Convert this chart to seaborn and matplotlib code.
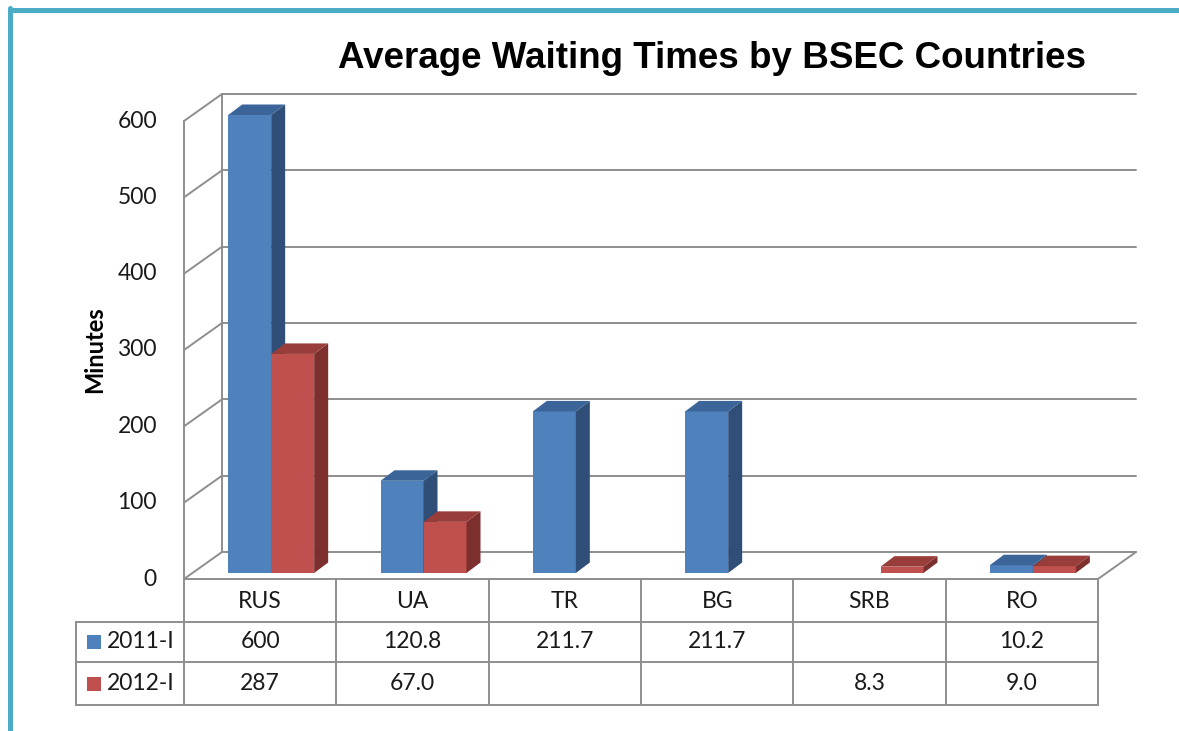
import numpy as np
import pandas as pd
import matplotlib
matplotlib.use("Agg")
import matplotlib.pyplot as plt
import seaborn as sns
from matplotlib.patches import Polygon, Rectangle

# data
countries = ["RUS", "UA", "TR", "BG", "SRB", "RO"]
periods = ["2011-I", "2012-I"]
wait_2011 = [600, 120.8, 211.7, 211.7, np.nan, 10.2]
wait_2012 = [287, 67.0, np.nan, np.nan, 8.3, 9.0]
table_2011 = ["600", "120.8", "211.7", "211.7", "", "10.2"]
table_2012 = ["287", "67.0", "", "", "8.3", "9.0"]
y_ticks = [0, 100, 200, 300, 400, 500, 600]

front_colors = ["#4F81BD", "#C0504D"]
side_colors = ["#2F4E78", "#7D2F2D"]
top_colors = ["#3B6599", "#983D3A"]
grid_color = "#8E8E8E"
frame_color = "#4BACC6"
text_color = "#1A1A1A"

df = pd.DataFrame({
    "country": countries * 2,
    "period": [periods[0]] * 6 + [periods[1]] * 6,
    "minutes": wait_2011 + wait_2012,
}).dropna()

sns.set_style("white")
plt.rcParams["font.family"] = ["Lato", "DejaVu Sans"]

W, H = 1179, 731
fig = plt.figure(figsize=(W / 100, H / 100), dpi=100)


def fx(x):
    return x / W


def fy(y):
    return 1 - y / H


# front plane of the 3d box in pixels
left_px, right_px, base_px, top_px = 184, 1098, 579, 121
ppx = (right_px - left_px) / 6
ppy = (base_px - top_px) / 600
DX = 38 / ppx          # wall depth
DY = 27 / ppy
OX, OY = 11 / ppx, 6 / ppy      # bar front offset
BDX, BDY = 14 / ppx, 10.5 / ppy  # bar depth
bar_w = 43 / ppx

ax = fig.add_axes([fx(left_px), fy(base_px), (right_px + 38 - left_px) / W,
                   (base_px - top_px + 27) / H])

sns.barplot(data=df, x="country", y="minutes", hue="period", order=countries,
            hue_order=periods, palette=front_colors, width=2 * bar_w,
            errorbar=None, saturation=1, legend=False, linewidth=0, ax=ax)

ax.set_xlim(-0.5, 5.5 + DX)
ax.set_ylim(0, 600 + DY)
ax.axis("off")

# walls and gridlines
for v in y_ticks:
    ax.plot([-0.5 + DX, 5.5 + DX], [v + DY, v + DY], color=grid_color, lw=1.4, zorder=1, clip_on=False)
    ax.plot([-0.5, -0.5 + DX], [v, v + DY], color=grid_color, lw=1.4, zorder=1, clip_on=False)
    ax.text(-0.5 - 27 / ppx, v, str(v), ha="right", va="center", fontsize=16.5, color=text_color)
ax.plot([-0.5, -0.5], [0, 600], color=grid_color, lw=1.4, zorder=1, clip_on=False)
ax.plot([-0.5 + DX, -0.5 + DX], [DY, 600 + DY], color=grid_color, lw=1.4, zorder=1, clip_on=False)
ax.plot([5.5, 5.5 + DX], [0, DY], color=grid_color, lw=1.4, zorder=1, clip_on=False)

# turn flat seaborn bars into 3d blocks
for p in list(ax.patches):
    h = p.get_height()
    if not np.isfinite(h) or h <= 0:
        continue
    x0 = p.get_x()
    w = p.get_width()
    cat = int(round(x0 + w / 2))
    hi = 0 if x0 + w / 2 < cat else 1
    z = 3 + cat * 3 + hi
    x0 = x0 + OX
    x1 = x0 + w
    p.set_x(x0)
    p.set_y(OY)
    p.set_zorder(z)
    yt = OY + h
    ax.add_patch(Polygon([(x1, OY), (x1 + BDX, OY + BDY), (x1 + BDX, yt + BDY), (x1, yt)],
                         closed=True, facecolor=side_colors[hi], edgecolor="none", zorder=z))
    ax.add_patch(Polygon([(x0, yt), (x0 + BDX, yt + BDY), (x1 + BDX, yt + BDY), (x1, yt)],
                         closed=True, facecolor=top_colors[hi], edgecolor="none", zorder=z))

# data table below the plot
tab_left = 76
tab = fig.add_axes([fx(tab_left), fy(705), (right_px - tab_left) / W, (705 - base_px) / H])
xl = -0.5 - (left_px - tab_left) / ppx
tab.set_xlim(xl, 5.5)
tab.set_ylim(126, 0)
tab.axis("off")
rows = [0, 43, 83, 126]
lkw = dict(color=grid_color, lw=1.4, clip_on=False)
tab.plot([-0.5, 5.5], [0, 0], **lkw)
for r in rows[1:]:
    tab.plot([xl, 5.5], [r, r], **lkw)
tab.plot([xl, xl], [rows[1], rows[3]], **lkw)
for i in range(7):
    tab.plot([i - 0.5, i - 0.5], [0, rows[3]], **lkw)

for i, c in enumerate(countries):
    tab.text(i, (rows[0] + rows[1]) / 2 + 1, c, ha="center", va="center", fontsize=16.5, color=text_color)
    tab.text(i, (rows[1] + rows[2]) / 2, table_2011[i], ha="center", va="center", fontsize=16.5, color=text_color)
    tab.text(i, (rows[2] + rows[3]) / 2, table_2012[i], ha="center", va="center", fontsize=16.5, color=text_color)

for k, lab in enumerate(periods):
    yc = (rows[k + 1] + rows[k + 2]) / 2
    tab.add_patch(Rectangle((xl + 11 / ppx, yc - 7), 14 / ppx, 14, facecolor=front_colors[k],
                            edgecolor="none", clip_on=False))
    tab.text(xl + 31 / ppx, yc, lab, ha="left", va="center", fontsize=16.5, color=text_color)

# titles
fig.text(fx(712), fy(59), "Average Waiting Times by BSEC Countries", ha="center", va="center",
         fontsize=26.5, fontweight="bold", color="black", family=["Liberation Sans", "DejaVu Sans"])
fig.text(fx(95), fy(350), "Minutes", rotation=90, ha="center", va="center",
         fontsize=17, fontweight="bold", color="black")

# slide frame
fig.add_artist(plt.Line2D([fx(10), 1], [fy(10), fy(10)], color=frame_color, lw=3.6))
fig.add_artist(plt.Line2D([fx(10), fx(10)], [fy(8), 0], color=frame_color, lw=3.6))

fig.savefig("out.png", dpi=100)
